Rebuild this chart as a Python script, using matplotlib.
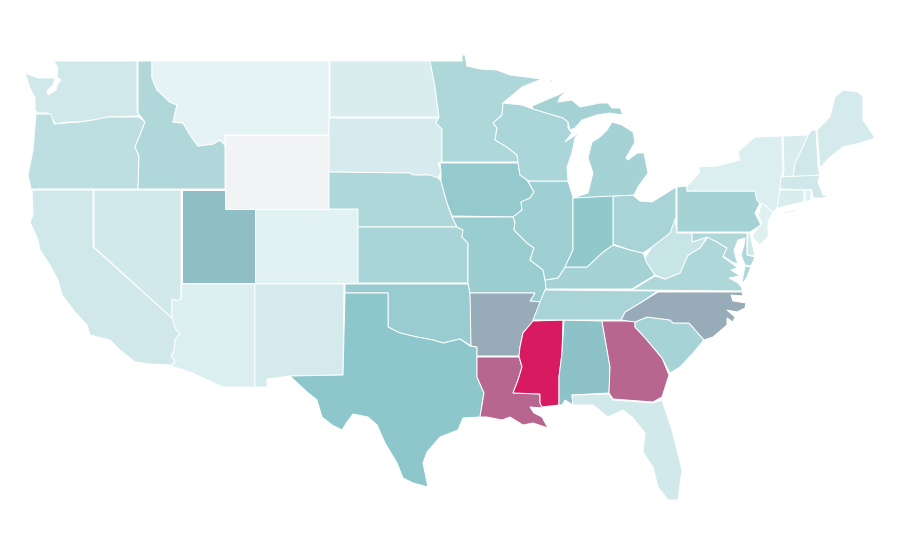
import matplotlib
matplotlib.use("Agg")
import matplotlib.pyplot as plt
from matplotlib.colors import LinearSegmentedColormap, Normalize
from matplotlib.patches import Polygon

states = ["WA", "OR", "CA", "NV", "ID", "MT", "WY", "UT", "CO", "AZ", "NM", "ND", "SD", "NE", "KS", "OK",
          "TX", "MN", "IA", "MO", "AR", "LA", "MS", "AL", "GA", "FL", "SC", "NC", "TN", "KY", "VA", "WV",
          "OH", "PA", "NY", "VT", "NH", "ME", "MA", "CT", "RI", "NJ", "DE", "MD", "IL", "IN", "WI", "MI"]
values = [16, 25, 16, 15, 32, 5, 0, 52, 7, 10, 14, 11, 13, 33, 35, 44,
          49, 33, 46, 43, 58, 78, 100, 51, 78, 15, 37, 58, 36, 38, 33, 20,
          36, 38, 10, 11, 16, 14, 16, 11, 8, 8, 16, 32, 41, 48, 34, 38]
scale_stops = [0, 0.05, 0.5, 1]
scale_colors = ["#f2f3f5", "#e5f3f4", "#8cc6ca", "#d81b60"]

# state outlines
outlines = {
    "WA": [[(54, 61), (137, 61), (137, 110), (139, 116), (108, 117), (93, 120), (80, 122), (67, 122), (56, 124),
            (53, 120), (48, 113), (38, 113), (35, 110), (35, 98), (30, 88), (25, 73), (38, 78), (55, 78), (53, 85),
            (47, 91), (48, 95), (56, 90), (57, 85), (61, 80), (57, 77), (58, 68)]],
    "OR": [[(36, 114), (51, 114), (54, 124), (66, 123), (80, 122), (93, 120), (108, 117), (139, 117), (145, 122),
            (140, 135), (135, 147), (139, 156), (138, 189), (31, 189), (28, 175), (33, 150)]],
    "CA": [[(32, 190), (93, 190), (93, 247), (173, 319), (176, 330), (180, 333), (175, 340), (174, 352), (171, 355),
            (175, 362), (171, 365), (150, 364), (135, 362), (120, 350), (110, 340), (90, 335), (87, 325), (75, 312),
            (62, 295), (58, 280), (50, 265), (40, 250), (38, 240), (30, 222), (33, 215)]],
    "NV": [[(94, 190), (181, 190), (181, 299), (177, 301), (172, 299), (172, 318), (94, 247)]],
    "ID": [[(138, 61), (152, 61), (152, 78), (157, 90), (170, 102), (177, 105), (173, 122), (183, 123), (192, 138),
            (198, 146), (213, 144), (220, 140), (225, 145), (225, 189), (138, 189), (139, 156), (135, 147),
            (140, 135), (145, 122), (138, 113)]],
    "MT": [[(152, 61), (329, 61), (329, 135), (225, 135), (225, 145), (220, 140), (213, 144), (198, 146), (192, 138),
            (183, 123), (173, 122), (177, 105), (170, 102), (157, 90), (152, 78)]],
    "WY": [[(225, 135), (329, 135), (329, 209), (225, 209)]],
    "UT": [[(182, 190), (225, 190), (225, 209), (255, 209), (255, 283), (182, 283)]],
    "CO": [[(255, 209), (358, 209), (358, 283), (255, 283)]],
    "AZ": [[(182, 284), (255, 284), (255, 387), (223, 387), (190, 372), (171, 366), (175, 362), (171, 355), (174, 352),
            (175, 340), (180, 333), (176, 330), (172, 318), (172, 299), (177, 301), (181, 299)]],
    "NM": [[(255, 284), (344, 284), (343, 375), (290, 376), (267, 379), (267, 387), (255, 387)]],
    "ND": [[(330, 61), (430, 61), (435, 87), (439, 117), (330, 117)]],
    "SD": [[(329, 118), (439, 118), (436, 123), (442, 129), (442, 162), (438, 163), (441, 172), (438, 178), (430, 175),
            (413, 175), (410, 173), (329, 172)]],
    "NE": [[(329, 172), (410, 173), (413, 175), (430, 175), (438, 178), (441, 181), (447, 203), (452, 217), (457, 227),
            (358, 227), (358, 209), (329, 209)]],
    "KS": [[(358, 227), (457, 227), (463, 230), (462, 237), (468, 243), (468, 283), (358, 283)]],
    "OK": [[(345, 284), (468, 284), (470, 293), (471, 310), (471, 346), (460, 339), (443, 343), (433, 340), (417, 337),
            (400, 333), (388, 327), (388, 293), (345, 293)]],
    "TX": [[(345, 293), (388, 293), (388, 327), (400, 333), (417, 337), (433, 340), (443, 343), (460, 339), (470, 346),
            (477, 347), (477, 377), (484, 393), (480, 417), (463, 418), (458, 430), (440, 437), (427, 452), (423, 463),
            (428, 487), (413, 483), (403, 478), (397, 463), (385, 443), (377, 425), (368, 417), (353, 414), (347, 422),
            (342, 430), (332, 425), (322, 417), (317, 400), (307, 392), (290, 376), (343, 375)]],
    "MN": [[(430, 61), (462, 61), (462, 55), (465, 55), (467, 66), (480, 69), (497, 70), (510, 75), (542, 79), (522, 87),
            (503, 103), (502, 115), (493, 123), (497, 128), (495, 140), (507, 147), (517, 155), (518, 162), (442, 162),
            (442, 129), (436, 123), (439, 117), (435, 87)]],
    "IA": [[(440, 163), (518, 163), (520, 175), (527, 180), (534, 192), (530, 198), (521, 202), (522, 210), (513, 217),
            (452, 216), (447, 203), (441, 181), (441, 172)]],
    "MO": [[(452, 217), (513, 217), (515, 222), (514, 230), (527, 243), (534, 248), (530, 260), (543, 270), (545, 280),
            (549, 283), (545, 290), (541, 302), (530, 301), (535, 293), (470, 293), (468, 283), (468, 243), (462, 237),
            (463, 230), (457, 227)]],
    "AR": [[(470, 293), (535, 293), (530, 301), (541, 302), (532, 323), (523, 333), (520, 347), (519, 356), (477, 356),
            (477, 347), (471, 346)]],
    "LA": [[(477, 357), (519, 357), (522, 367), (518, 380), (513, 393), (540, 394), (540, 403), (543, 408), (530, 407),
            (534, 413), (542, 417), (548, 428), (533, 423), (523, 425), (510, 417), (502, 420), (487, 417), (480, 417),
            (484, 393), (477, 377)]],
    "MS": [[(533, 321), (563, 320), (562, 353), (559, 377), (559, 405), (542, 407), (540, 403), (540, 394), (513, 393),
            (518, 380), (522, 367), (519, 356), (520, 347), (523, 333)]],
    "AL": [[(564, 320), (602, 321), (610, 367), (609, 393), (572, 395), (573, 405), (565, 400), (562, 405), (559, 405),
            (559, 377), (562, 353)]],
    "GA": [[(602, 321), (635, 321), (635, 327), (647, 340), (662, 358), (669, 375), (662, 397), (653, 402), (613, 399),
            (609, 393), (610, 367)]],
    "FL": [[(572, 395), (609, 394), (613, 400), (653, 403), (662, 400), (672, 430), (682, 470), (678, 500), (668, 500),
            (658, 487), (653, 467), (643, 452), (645, 433), (633, 418), (623, 410), (608, 417), (593, 405), (573, 405)]],
    "SC": [[(635, 322), (647, 317), (670, 320), (673, 323), (689, 323), (704, 340), (693, 353), (680, 367), (670, 373),
            (662, 358), (647, 340), (635, 327)]],
    "NC": [[(621, 320), (625, 312), (640, 303), (658, 292), (742, 292), (743, 296), (731, 295), (733, 301), (746, 303),
            (745, 308), (737, 312), (727, 310), (735, 317), (733, 322), (727, 318), (727, 325), (713, 337), (704, 340),
            (689, 323), (673, 323), (670, 320), (647, 317), (635, 322)]],
    "TN": [[(533, 320), (540, 302), (545, 290), (658, 291), (640, 303), (625, 312), (621, 320)]],
    "KY": [[(546, 289), (545, 280), (558, 278), (565, 267), (587, 267), (603, 252), (613, 245), (630, 250), (643, 253),
            (647, 263), (655, 275), (632, 289)]],
    "VA": [[(632, 290), (655, 276), (665, 279), (680, 273), (688, 255), (700, 248), (708, 237), (717, 242), (727, 248),
            (723, 257), (733, 264), (737, 268), (731, 270), (740, 276), (729, 278), (738, 283), (742, 288), (742, 291)],
           [(751, 267), (745, 266), (743, 276), (742, 285), (747, 277)]],
    "WV": [[(645, 258), (652, 247), (670, 233), (675, 217), (677, 233), (692, 233), (692, 242), (707, 237), (700, 248),
            (688, 255), (680, 273), (665, 279), (655, 275), (647, 263)]],
    "OH": [[(613, 196), (633, 195), (640, 201), (652, 202), (676, 187), (676, 217), (670, 233), (652, 247), (643, 253),
            (630, 250), (613, 244)]],
    "PA": [[(677, 187), (687, 186), (687, 191), (755, 191), (757, 200), (760, 203), (755, 213), (761, 225), (750, 232),
            (677, 232)]],
    "NY": [[(687, 191), (687, 186), (700, 172), (698, 167), (717, 166), (740, 160), (738, 152), (755, 137), (782, 136),
            (783, 170), (780, 188), (778, 207), (773, 212), (760, 203), (757, 200), (755, 191)],
           [(773, 215), (802, 208), (793, 212), (777, 215)]],
    "VT": [[(783, 136), (808, 135), (803, 147), (795, 163), (793, 177), (783, 177), (784, 170)]],
    "NH": [[(808, 135), (812, 130), (816, 130), (818, 167), (820, 175), (793, 177), (795, 163), (803, 147)]],
    "ME": [[(817, 130), (830, 117), (835, 97), (843, 90), (858, 92), (863, 97), (863, 120), (875, 138), (860, 143),
            (843, 147), (830, 157), (820, 168)]],
    "MA": [[(781, 177), (820, 175), (818, 182), (823, 195), (830, 196), (822, 198), (813, 198), (812, 190), (780, 189)]],
    "CT": [[(780, 190), (804, 190), (804, 202), (777, 208)]],
    "RI": [[(805, 190), (811, 190), (811, 200), (805, 202)]],
    "NJ": [[(762, 203), (773, 212), (768, 222), (768, 237), (760, 245), (752, 237), (755, 232), (762, 223), (758, 215)]],
    "DE": [[(748, 233), (750, 233), (752, 243), (755, 256), (747, 255)]],
    "MD": [[(692, 233), (747, 233), (747, 255), (755, 257), (751, 266), (745, 265), (741, 255), (744, 245), (745, 238),
            (738, 240), (734, 250), (736, 258), (738, 264), (732, 262), (723, 256), (727, 248), (717, 242), (707, 237),
            (692, 242)]],
    "IL": [[(528, 181), (568, 181), (573, 197), (573, 250), (565, 267), (558, 278), (545, 280), (543, 270), (530, 260),
            (534, 248), (527, 243), (514, 230), (515, 222), (513, 217), (522, 210), (521, 202), (530, 198), (534, 192)]],
    "IN": [[(573, 197), (587, 194), (613, 194), (613, 245), (603, 252), (587, 267), (565, 267), (573, 250)]],
    "WI": [[(503, 103), (522, 105), (533, 109), (563, 118), (568, 122), (568, 128), (572, 133), (565, 142), (580, 132),
            (575, 138), (572, 153), (567, 167), (568, 181), (530, 181), (527, 180), (520, 175), (518, 162), (517, 155),
            (507, 147), (495, 140), (497, 128), (493, 123), (502, 115)]],
    "MI": [[(573, 198), (588, 193), (593, 173), (588, 158), (592, 142), (600, 137), (607, 130), (612, 122), (622, 125),
            (633, 132), (635, 142), (626, 158), (628, 160), (637, 153), (644, 153), (648, 173), (638, 187), (634, 195)],
           [(532, 106), (553, 97), (558, 95), (568, 90), (560, 97), (558, 102), (572, 100), (580, 107), (600, 103),
            (608, 103), (612, 108), (620, 108), (623, 115), (610, 113), (597, 115), (582, 120), (575, 128), (570, 130),
            (568, 122), (563, 118), (533, 109)],
           [(549, 81), (555, 78), (551, 82)]],
}

cmap = LinearSegmentedColormap.from_list("rate", list(zip(scale_stops, scale_colors)))
norm = Normalize(0, 100)

fig, ax = plt.subplots(figsize=(9, 5.6), dpi=100)
fig.subplots_adjust(0, 0, 1, 1)

for state, value in zip(states, values):
    for ring in outlines[state]:
        ax.add_patch(Polygon(ring, closed=True, facecolor=cmap(norm(value)), edgecolor="white", linewidth=0.7))

ax.set_xlim(0, 900)
ax.set_ylim(560, 0)
ax.axis("off")

fig.savefig("out.png", dpi=100)
